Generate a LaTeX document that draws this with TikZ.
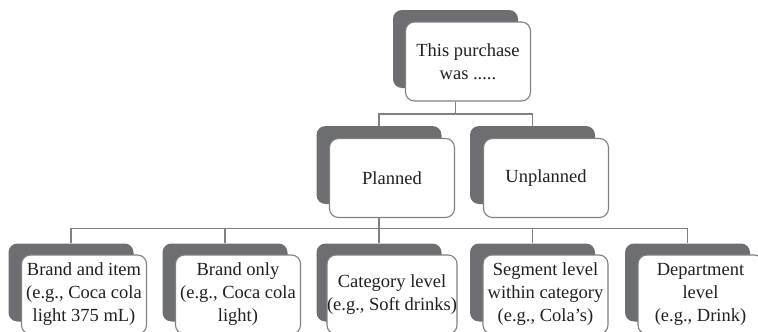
\documentclass[tikz,border=0pt]{standalone}
\usepackage{fontspec}
\setmainfont{Liberation Serif}
\definecolor{shade}{HTML}{6D6E71}
\definecolor{rim}{HTML}{808080}
\definecolor{ink}{HTML}{231F20}
\tikzset{
  back/.style={fill=shade, rounded corners=9pt, minimum width=125pt, minimum height=78pt, inner sep=0pt},
  front/.style={draw=rim, fill=white, line width=1.1pt, rounded corners=9pt, minimum width=125pt, minimum height=79pt, inner sep=0pt, align=center, text=ink, font=\fontsize{18.5}{23}\selectfont},
  link/.style={draw=rim, line width=1.4pt}
}
\begin{document}
\begin{tikzpicture}[x=1pt, y=-1pt]
\useasboundingbox (0,0) rectangle (758,332);
\clip (0,0) rectangle (758,332);
\node[back] (topS) at (455.5,49) {};
\node[front] (top) at (468,61.5) {This purchase\\was .....};
\node[back] (planS) at (379,165) {};
\node[front] (plan) at (392,178) {Planned};
\node[back] (unplanS) at (532.5,165) {};
\node[front] (unplan) at (546,178) {Unplanned};
\foreach \x/\n/\t in {71/brand/{Brand and item\\(e.g., Coca cola\\light 375 mL)},
    225/only/{Brand only\\(e.g., Coca cola\\light)},
    379/categ/{Category level\\(e.g., Soft drinks)},
    532.5/segm/{Segment level\\within category\\(e.g., Cola’s)},
    687.5/dept/{Department\\level\\(e.g., Drink)}}{
  \node[back] (\n S) at (\x,282.5) {};
  \node[front] (\n) at (\x+13,294.5) {\t};
}
\draw[link] (top.south -| topS.south) -- ++(0,12.5) -| (planS.north);
\draw[link] (top.south -| topS.south) -- ++(0,12.5) -| (unplanS.north);
\foreach \n in {brand,only,categ,segm,dept}
  \draw[link] (plan.south -| planS.south) -- ++(0,10.5) -| (\n S.north);
\end{tikzpicture}
\end{document}
